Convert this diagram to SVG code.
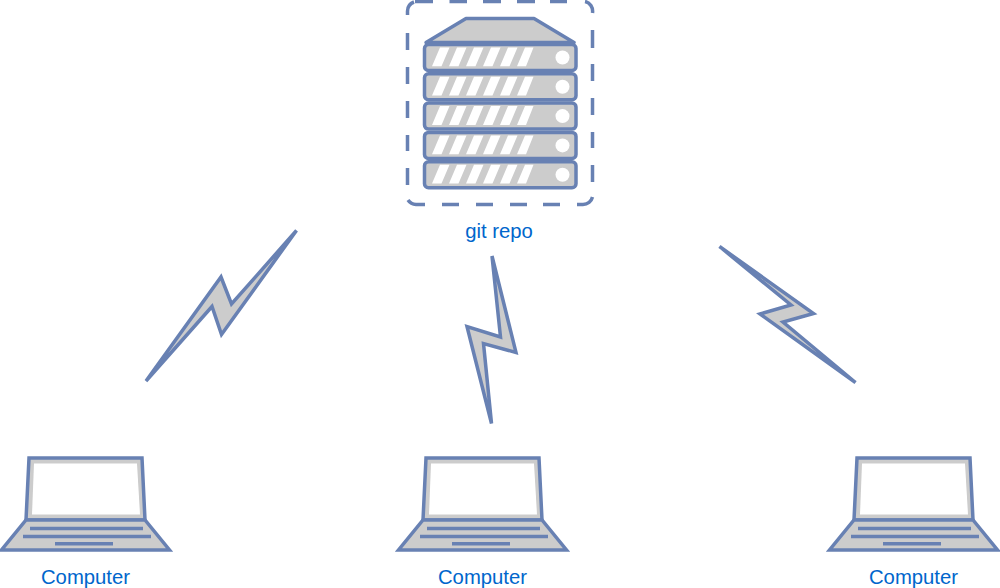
<svg xmlns="http://www.w3.org/2000/svg" xmlns:xlink="http://www.w3.org/1999/xlink" width="1000" height="588" viewBox="0 0 1000 588">
<style>
.s{stroke:#6881b3;stroke-width:3.500;stroke-linejoin:miter;stroke-miterlimit:4}
.g{fill:#ccc}
.w{fill:#fff;stroke:none}
.l{fill:none;stroke:#6881b3;stroke-width:3.500}
.t{font-family:"Liberation Sans",Arial,sans-serif;font-size:20.300px;fill:#0066cc;text-anchor:middle}
</style>
<defs>
<g id="unit">
<rect class="s g" x="424.500" y="0" width="151.500" height="26" rx="4"/>
<path class="w" d="M432 21.800L440 3H449.500L441.500 21.800ZM449 21.800L457 3H466.500L458.500 21.800ZM466 21.800L474 3H483.500L475.500 21.800ZM483 21.800L491 3H500.500L492.500 21.800ZM500 21.800L508 3H517.500L509.500 21.800ZM517 21.800L525 3H533.500L526 21.800Z"/>
<circle class="w" cx="562.500" cy="13" r="7"/>
</g>
<g id="laptop">
<path class="s g" d="M29 458H142L145 520H26Z"/>
<path class="w" d="M34 463.500H137L140 514.500H32Z"/>
<path class="s g" d="M26 520H145L169.500 550H1.500Z"/>
<path class="l" d="M30 528.500H143M23 536.500H151M55 543.800H113"/>
</g>
</defs>
<g id="server">
<path fill="none" stroke="#6881b3" stroke-width="3.500" d="M407.500 15V11.500A10 10 0 0 1 414 2M415 1.500H433M449.500 1.500H467M483 1.500H501M517 1.500H535M550 1.500H567M585 1.500A9 10 0 0 1 592.500 13M592.500 30V48M592.500 64V81M592.500 98V115M592.500 132V148M592.500 165V182M577 204.500H583A10 10 0 0 0 592.500 197M560 204.500H543M527 204.500H510M493 204.500H476M459 204.500H442M425 204.500H416A10 10 0 0 1 408 200M407.500 185V168M407.500 151V135M407.500 118V101M407.500 84V67M407.500 50V33"/>
<path class="s g" style="stroke-linejoin:round" d="M426 42.500L466 18.500H534L574 42.500Z"/>
<use xlink:href="#unit" y="44.500"/>
<use xlink:href="#unit" y="73.800"/>
<use xlink:href="#unit" y="103.100"/>
<use xlink:href="#unit" y="132.400"/>
<use xlink:href="#unit" y="161.700"/>
<text class="t" x="499" y="237.500">git repo</text>
</g>
<g id="computer-1"><use xlink:href="#laptop"/><text class="t" x="85.500" y="583.500">Computer</text></g>
<g id="computer-2"><use xlink:href="#laptop" x="397"/><text class="t" x="482.500" y="583.500">Computer</text></g>
<g id="computer-3"><use xlink:href="#laptop" x="828"/><text class="t" x="913.500" y="583.500">Computer</text></g>
<g id="connectors">
<path class="s g" d="M296.500 230.500L231.500 304L221 277L146 381L212 306.500L221.500 334.500Z"/>
<path class="s g" d="M492 256L516 352.500L483.500 343.500L491.500 423.500L467 326.500L500.500 337Z"/>
<path class="s g" d="M719.500 246.500L813.500 313.500L783 322L855.500 382.500L760 314L791 305Z"/>
</g>
</svg>
